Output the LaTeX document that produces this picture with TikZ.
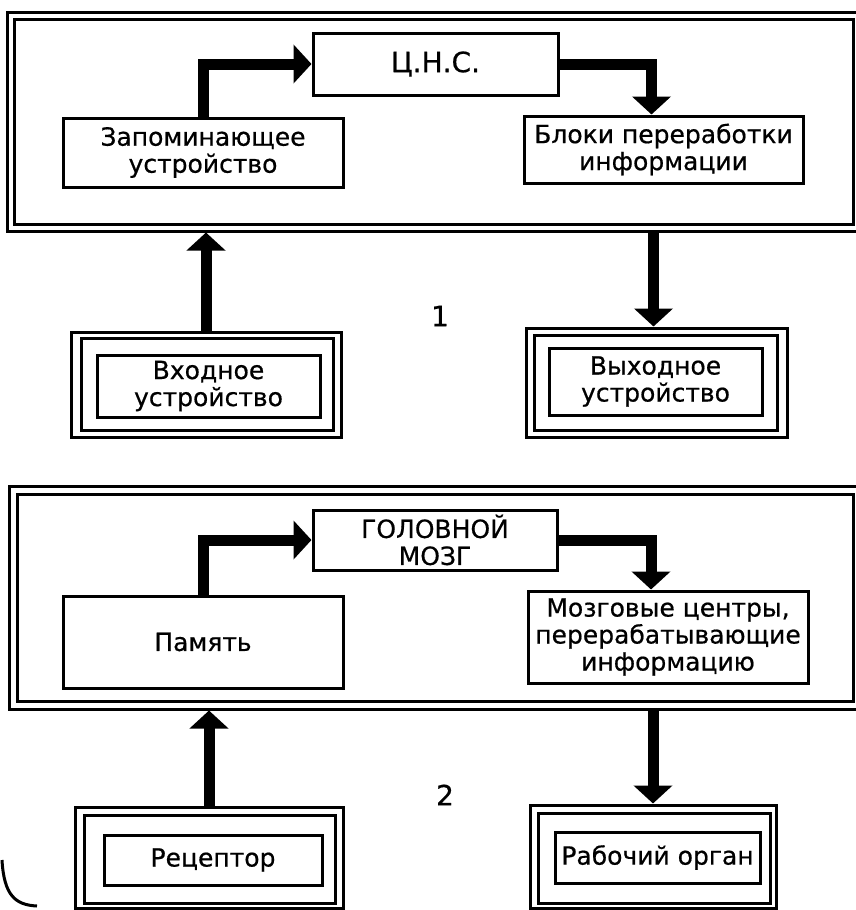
\documentclass[tikz,border=0pt]{standalone}
\usepackage{fontspec}
\setmainfont{DejaVu Sans}
\newfontfamily\heavyfam{DejaVu Sans}[FakeBold=0.6]
\usetikzlibrary{arrows.meta}
\newcommand\boxfnt{\heavyfam\fontsize{25}{27}\selectfont}
\begin{document}
\begin{tikzpicture}[x=1pt,y=-1pt,
  frm/.style={draw, line width=3pt, inner sep=0pt},
  blockbox/.style={draw, line width=3pt, inner sep=0pt, align=center, font=\boxfnt},
  arr/.style={line width=11pt, -{Triangle[width=38pt,length=18pt]}},
  numlbl/.style={font=\heavyfam\fontsize{28}{30}\selectfont}]
\useasboundingbox (0,0) rectangle (856,910);
\fill[white] (0,0) rectangle (856,910);

% ---------- diagram 1 ----------
\node[frm, minimum width=863pt, minimum height=219pt] (f1o) at (438.5,121.5) {};
\node[frm, minimum width=839pt, minimum height=205pt] (f1i) at (433.5,121.5) {};

\node[blockbox, minimum width=245pt, minimum height=62pt, font=\heavyfam\fontsize{28}{30}\selectfont] (cns) at (435.5,64) {Ц.Н.С.};
\node[blockbox, minimum width=280pt, minimum height=69pt] (zap) at (203,152.5) {Запоминающее\\устройство};
\node[blockbox, minimum width=279pt, minimum height=67pt] (blk) at (663.5,149.5) {Блоки переработки\\информации};

\draw[arr] (zap.north) |- (cns.west);
\draw[arr] (cns.east) -| ([xshift=-12pt]blk.north);

\node[frm, minimum width=270pt, minimum height=105pt] (in1o) at (206,384.5) {};
\node[frm, minimum width=252pt, minimum height=92pt] (in1m) at (207,384) {};
\node[blockbox, minimum width=223pt, minimum height=62pt] (in1) at (208.5,386) {Входное\\устройство};

\node[frm, minimum width=261pt, minimum height=109pt] (out1o) at (656.5,382.5) {};
\node[frm, minimum width=243pt, minimum height=95pt] (out1m) at (655.5,382.5) {};
\node[blockbox, minimum width=213pt, minimum height=67pt] (out1) at (655.5,381.5) {Выходное\\устройство};

\draw[arr] (in1o.north) -- (in1o.north |- f1o.south);
\draw[arr] ([xshift=-3pt]out1o.north |- f1o.south) -- ([xshift=-3pt]out1o.north);

\node[numlbl] (n1) at (440,316) {1};

% ---------- diagram 2 ----------
\node[frm, minimum width=861pt, minimum height=223pt] (f2o) at (439.5,597.5) {};
\node[frm, minimum width=836pt, minimum height=207pt] (f2i) at (435,597.5) {};

\node[blockbox, minimum width=244pt, minimum height=60pt] (gm) at (435,540) {ГОЛОВНОЙ\\МОЗГ};
\node[blockbox, minimum width=280pt, minimum height=92pt] (pam) at (203,642) {Память};
\node[blockbox, minimum width=280pt, minimum height=92pt] (moz) at (668,637) {Мозговые центры,\\перерабатывающие\\информацию};

\draw[arr] (pam.north) |- (gm.west);
\draw[arr] (gm.east) -| ([xshift=-17pt]moz.north);

\node[frm, minimum width=268pt, minimum height=101pt] (rec2o) at (209,857.5) {};
\node[frm, minimum width=251pt, minimum height=88pt] (rec2m) at (209.5,859) {};
\node[blockbox, minimum width=218pt, minimum height=50pt] (rec) at (213,860) {Рецептор};

\node[frm, minimum width=246pt, minimum height=103pt] (rab2o) at (653,856.5) {};
\node[frm, minimum width=232pt, minimum height=90pt] (rab2m) at (654,858) {};
\node[blockbox, minimum width=205pt, minimum height=51pt] (rab) at (657.5,857.5) {Рабочий орган};

\draw[arr] (rec2o.north) -- (rec2o.north |- f2o.south);
\draw[arr] (rab2o.north |- f2o.south) -- (rab2o.north);

\node[numlbl] (n2) at (445,795) {2};

% scan mark at the lower left corner
\draw[line width=3pt] (2,860) .. controls (4,895) and (15,905) .. (37,906);
\end{tikzpicture}
\end{document}
